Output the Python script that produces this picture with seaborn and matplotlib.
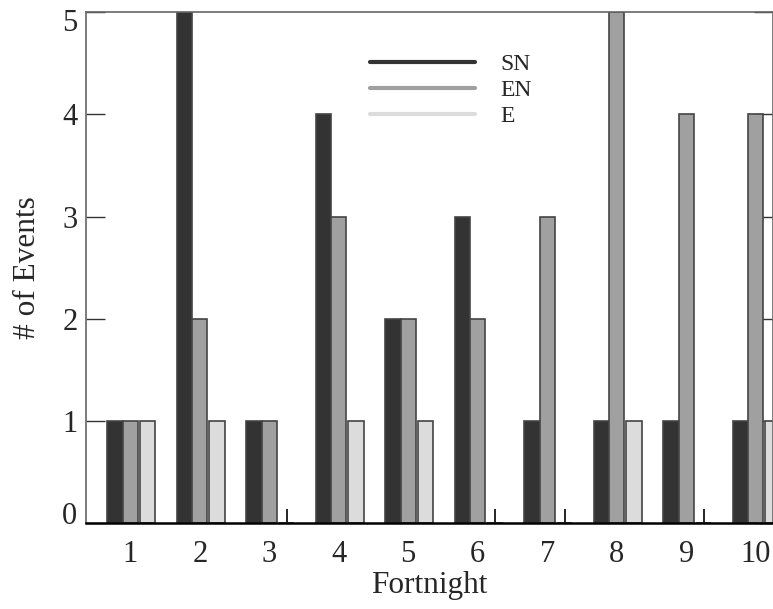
import matplotlib
matplotlib.use("Agg")
import matplotlib.pyplot as plt
import matplotlib.transforms as mtransforms
import seaborn as sns
import pandas as pd
import numpy as np
from matplotlib.lines import Line2D

fortnights = ["1", "2", "3", "4", "5", "6", "7", "8", "9", "10"]
series = ["SN", "EN", "E"]
sn_vals = [1, 5, 1, 4, 2, 3, 1, 1, 1, 1]
en_vals = [1, 2, 1, 3, 2, 2, 3, 5, 4, 4]
e_vals = [1, 1, 0, 1, 1, 0, 0, 1, 0, 1]
colors = ["#333333", "#a0a0a0", "#dcdcdc"]

df = pd.DataFrame({
    "Fortnight": fortnights * 3,
    "Series": ["SN"] * 10 + ["EN"] * 10 + ["E"] * 10,
    "Events": sn_vals + en_vals + e_vals,
})

sns.set_theme(style="white")
plt.rcParams["font.family"] = ["Liberation Serif", "DejaVu Serif"]

fig = plt.figure(figsize=(7.73, 6.09), dpi=100)
ax = fig.add_axes([0.111, 0.141, 0.889, 0.839])

width = 0.66
sns.barplot(data=df, x="Fortnight", y="Events", hue="Series", hue_order=series,
            order=fortnights, palette=colors, width=width, dodge=True,
            edgecolor="#444444", linewidth=1.2, errorbar=None, legend=False, ax=ax)

# small gap before the third series in each group
gap = 0.03
for bar in ax.containers[2]:
    bar.set_x(bar.get_x() + gap)

ax.set_xlim(-0.64, 9.09)
ax.set_ylim(0, 5)
ax.set_yticks([0, 1, 2, 3, 4, 5])
ax.set_xticks(range(10))
ax.set_xticklabels(fortnights)
bw = width / 3
minor = []
for i in range(10):
    minor += [i - bw, i + bw + gap]
ax.set_xticks(minor, minor=True)

ax.tick_params(axis="x", which="both", direction="in", length=10, width=1.2,
               color="black", labelsize=22, pad=12, bottom=True, top=False)
ax.tick_params(axis="y", which="major", direction="in", length=14, width=1.0,
               color="#333333", labelsize=22, pad=6, left=True, right=True)

# keep the end labels inside the axes extent
ylabs = ax.get_yticklabels()
up = mtransforms.ScaledTranslation(0, 7.2 / 72, fig.dpi_scale_trans)
down = mtransforms.ScaledTranslation(0, -5.8 / 72, fig.dpi_scale_trans)
ylabs[0].set_transform(ylabs[0].get_transform() + up)
ylabs[-1].set_transform(ylabs[-1].get_transform() + down)

for s in ["left", "right", "top"]:
    ax.spines[s].set_color("#666666")
    ax.spines[s].set_linewidth(1.2)
ax.spines["bottom"].set_color("black")
ax.spines["bottom"].set_linewidth(1.8)

ax.set_xlabel("Fortnight", fontsize=22.5)
ax.set_ylabel("# of Events", fontsize=22.5)
ax.yaxis.set_label_coords(-0.064, 0.5)
ax.xaxis.set_label_coords(0.5, -0.094)

handles = [Line2D([0], [0], color=c, lw=3) for c in colors]
ax.legend(handles, series, loc="upper left", bbox_to_anchor=(0.383, 0.961),
          frameon=False, fontsize=17, handlelength=4.45, handletextpad=1.06,
          labelspacing=0.19)

fig.savefig("out.png", dpi=100)
